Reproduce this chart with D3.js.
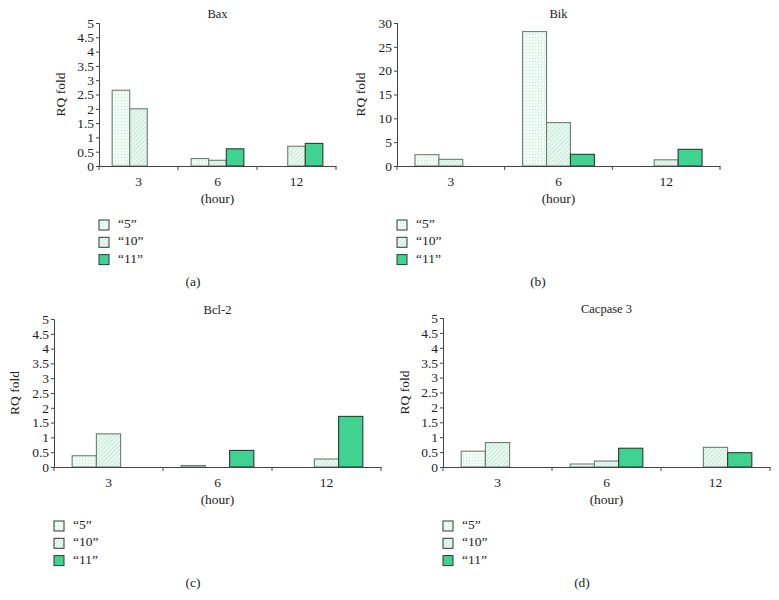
<!DOCTYPE html>
<html>
<head>
<meta charset="utf-8">
<script src="https://cdn.jsdelivr.net/npm/d3@7"></script>
<style>
  body { margin: 0; background: #fff; }
  svg { display: block; }
  text { font-family: "Liberation Serif", "DejaVu Serif", serif; fill: #222; }
</style>
</head>
<body>
<svg id="chart" width="779" height="600"></svg>
<script>
// ---- data ----
const hours = ["3", "6", "12"];
const seriesNames = ["\u201c5\u201d", "\u201c10\u201d", "\u201c11\u201d"];

const baxS5  = [2.65, 0.26, 0];
const baxS10 = [2.0, 0.2, 0.69];
const baxS11 = [0, 0.6, 0.79];

const bikS5  = [2.37, 28.2, 0];
const bikS10 = [1.4, 9.1, 1.3];
const bikS11 = [0, 2.45, 3.5];

const bcl2S5  = [0.38, 0.05, 0];
const bcl2S10 = [1.12, 0, 0.27];
const bcl2S11 = [0, 0.56, 1.71];

const casp3S5  = [0.53, 0.1, 0];
const casp3S10 = [0.82, 0.2, 0.66];
const casp3S11 = [0, 0.63, 0.48];

const ticksSmall = [0, 0.5, 1, 1.5, 2, 2.5, 3, 3.5, 4, 4.5, 5];
const ticksBik = [0, 5, 10, 15, 20, 25, 30];

// ---- panels (layout) ----
const panels = [
  { title: "Bax", tag: "(a)", s: [baxS5, baxS10, baxS11], ticks: ticksSmall, max: 5,
    left: 99, right: 336, top: 23, bottom: 166, ylabX: 62, tagX: 193 },
  { title: "Bik", tag: "(b)", s: [bikS5, bikS10, bikS11], ticks: ticksBik, max: 30,
    left: 397, right: 720, top: 23, bottom: 166, ylabX: 362, tagX: 538 },
  { title: "Bcl-2", tag: "(c)", s: [bcl2S5, bcl2S10, bcl2S11], ticks: ticksSmall, max: 5,
    left: 54, right: 381, top: 319, bottom: 467, ylabX: 16, tagX: 193 },
  { title: "Cacpase 3", tag: "(d)", s: [casp3S5, casp3S10, casp3S11], ticks: ticksSmall, max: 5,
    left: 443, right: 770, top: 318, bottom: 467, ylabX: 406, tagX: 582 }
];

const svg = d3.select("#chart");
const defs = svg.append("defs");

// dotted pattern for "5"
const pDot = defs.append("pattern").attr("id", "pDot").attr("patternUnits", "userSpaceOnUse")
  .attr("width", 3).attr("height", 3);
pDot.append("rect").attr("width", 3).attr("height", 3).attr("fill", "#f0fbf6");
pDot.append("rect").attr("x", 1).attr("y", 1).attr("width", 1).attr("height", 1).attr("fill", "#c4e9d7");

// diagonal hatch for "10"
const pHatch = defs.append("pattern").attr("id", "pHatch").attr("patternUnits", "userSpaceOnUse")
  .attr("width", 3).attr("height", 3).attr("patternTransform", "rotate(45)");
pHatch.append("rect").attr("width", 3).attr("height", 3).attr("fill", "#edfaf3");
pHatch.append("rect").attr("x", 0).attr("y", 0).attr("width", 1.2).attr("height", 3).attr("fill", "#c6eada");

const fills = ["url(#pDot)", "url(#pHatch)", "#40d290"];
const strokes = ["#6f7a75", "#6f7a75", "#2c3a33"];

panels.forEach(p => {
  const g = svg.append("g");
  const x = d3.scaleBand().domain(hours).range([p.left, p.right]).padding(0);
  const xs = d3.scaleBand().domain(d3.range(3)).range([0, x.bandwidth()]).paddingInner(0).paddingOuter(0.75);
  const y = d3.scaleLinear().domain([0, p.max]).range([p.bottom, p.top]);

  // bars
  p.s.forEach((vals, si) => {
    g.selectAll(null).data(vals.map((v, i) => ({ v, h: hours[i] })).filter(d => d.v > 0))
      .enter().append("rect")
      .attr("x", d => x(d.h) + xs(si))
      .attr("y", d => y(d.v))
      .attr("width", xs.bandwidth())
      .attr("height", d => y(0) - y(d.v))
      .attr("fill", fills[si])
      .attr("stroke", strokes[si])
      .attr("stroke-width", 1.1);
  });

  // y axis
  const ya = g.append("g").attr("transform", `translate(${p.left},0)`)
    .call(d3.axisLeft(y).tickValues(p.ticks).tickSize(3).tickPadding(2).tickFormat(d3.format("")));
  ya.select(".domain").attr("stroke", "#444");
  ya.selectAll(".tick line").attr("stroke", "#444");
  ya.selectAll("text").style("font-size", "13.5px").style("font-family", "Liberation Serif").attr("fill", "#222");

  // x axis
  const xa = g.append("g").attr("transform", `translate(0,${p.bottom})`)
    .call(d3.axisBottom(x).tickSize(0).tickPadding(10));
  xa.select(".domain").attr("stroke", "#444");
  xa.selectAll("text").style("font-size", "13.5px").style("font-family", "Liberation Serif").attr("fill", "#222");
  const bounds = hours.map(h => x(h)).concat([x(hours[hours.length - 1]) + x.bandwidth()]);
  g.selectAll(null).data(bounds).enter().append("line")
    .attr("x1", d => d).attr("x2", d => d)
    .attr("y1", p.bottom).attr("y2", p.bottom + 4)
    .attr("stroke", "#444");

  const cx = (p.left + p.right) / 2;
  // title
  g.append("text").attr("x", cx).attr("y", p.top - 5).attr("text-anchor", "middle")
    .style("font-size", "12.5px").text(p.title);
  // y label
  g.append("text").attr("transform", `translate(${p.ylabX},${(p.top + p.bottom) / 2}) rotate(-90)`)
    .attr("text-anchor", "middle").attr("dominant-baseline", "middle")
    .style("font-size", "13.5px").text("RQ fold");
  // x label
  g.append("text").attr("x", cx).attr("y", p.bottom + 34).attr("text-anchor", "middle")
    .attr("dominant-baseline", "middle").style("font-size", "13.5px").text("(hour)");

  // legend
  const lg = g.append("g");
  seriesNames.forEach((n, i) => {
    const ly = p.bottom + 59 + i * 17.3;
    lg.append("rect").attr("x", p.left).attr("y", ly - 5).attr("width", 10).attr("height", 10)
      .attr("fill", fills[i]).attr("stroke", "#2c3a33").attr("stroke-width", 1);
    lg.append("text").attr("x", p.left + 19).attr("y", ly).attr("dominant-baseline", "middle")
      .style("font-size", "13.5px").text(n);
  });

  // panel tag
  g.append("text").attr("x", p.tagX).attr("y", p.bottom + 117).attr("text-anchor", "middle")
    .attr("dominant-baseline", "middle").style("font-size", "13.5px").text(p.tag);
});
</script>
</body>
</html>
